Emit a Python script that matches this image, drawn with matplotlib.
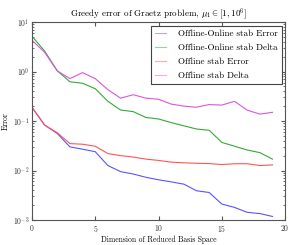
import matplotlib
matplotlib.use("Agg")
import matplotlib.pyplot as plt
import numpy as np

plt.rcParams['font.family'] = ['cmr10', 'DejaVu Serif']
plt.rcParams['mathtext.fontset'] = 'cm'
plt.rcParams['axes.formatter.use_mathtext'] = True

N = np.arange(20)

oo_error = [0.19, 0.083, 0.056, 0.030, 0.027, 0.024, 0.0126, 0.0095, 0.0085, 0.0073,
            0.0065, 0.0059, 0.0053, 0.0039, 0.0036, 0.0021, 0.0018, 0.00143, 0.00135, 0.00118]
oo_delta = [5.2, 2.6, 1.04, 0.62, 0.58, 0.45, 0.25, 0.167, 0.155, 0.118,
            0.11, 0.093, 0.080, 0.069, 0.065, 0.037, 0.031, 0.026, 0.023, 0.017]
off_error = [0.19, 0.083, 0.058, 0.035, 0.034, 0.031, 0.022, 0.020, 0.0187, 0.017,
             0.016, 0.0148, 0.0143, 0.014, 0.0138, 0.0132, 0.0137, 0.0137, 0.0126, 0.013]
off_delta = [4.3, 2.45, 1.03, 0.72, 0.95, 0.72, 0.43, 0.29, 0.34, 0.29,
             0.275, 0.22, 0.20, 0.19, 0.215, 0.21, 0.25, 0.166, 0.138, 0.15]

fig = plt.figure(figsize=(3.04, 2.45), dpi=100)
ax = fig.add_axes([0.105, 0.102, 0.833, 0.808])

ax.semilogy(N, oo_error, color='#5555ff', lw=0.8, label='Offline-Online stab Error')
ax.semilogy(N, oo_delta, color='#33aa33', lw=0.8, label='Offline-Online stab Delta')
ax.semilogy(N, off_error, color='#ff5555', lw=0.8, label='Offline stab Error')
ax.semilogy(N, off_delta, color='#dd55dd', lw=0.8, label='Offline stab Delta')

ax.set_xlim(0, 20)
ax.set_ylim(1e-3, 1e1)
ax.set_xticks([0, 5, 10, 15, 20])
ax.tick_params(which='both', direction='in', top=True, right=True, labelsize=5.5,
               colors='#555555', labelcolor='#333333', pad=2)
ax.tick_params(which='major', length=3)
ax.tick_params(which='minor', length=1.5)
for s in ax.spines.values():
    s.set_color('#555555')

ax.set_title(r'Greedy error of Graetz problem, $\mu_1 \in [1, 10^6]$', fontsize=6.5, pad=3)
ax.set_xlabel('Dimension of Reduced Basis Space', fontsize=5.5, labelpad=1.5)
ax.set_ylabel('Error', fontsize=5.5, labelpad=2)

leg = ax.legend(loc='upper right', fontsize=6.5, fancybox=False, framealpha=1,
                edgecolor='#444444', borderaxespad=0.4, handlelength=1.2,
                handletextpad=1.3, labelspacing=0.62, borderpad=0.45)
leg.get_frame().set_linewidth(0.8)
for line in leg.get_lines():
    line.set_alpha(0.5)

fig.savefig('out.png', dpi=100)
